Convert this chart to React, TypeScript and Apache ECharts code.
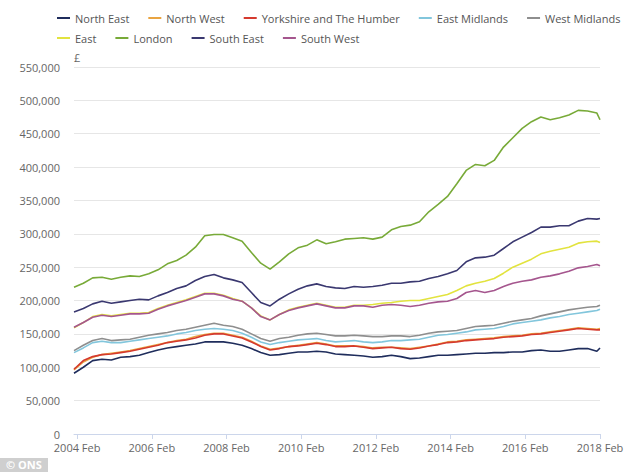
import React, { useEffect, useRef } from "react";
import * as echarts from "echarts";

// Month index: 0 = 2004 Jan, 1 = 2004 Feb, ..., 169 = 2018 Feb (quarterly samples)
const sampleMonths = [
  0, 3, 6, 9, 12, 15, 18, 21, 24, 27,
  30, 33, 36, 39, 42, 45, 48, 51, 54, 57,
  60, 63, 66, 69, 72, 75, 78, 81, 84, 87,
  90, 93, 96, 99, 102, 105, 108, 111, 114, 117,
  120, 123, 126, 129, 132, 135, 138, 141, 144, 147,
  150, 153, 156, 159, 162, 165, 168, 169,
];

// Average prices, £ thousands
const northEast = [
  91, 100, 110, 112, 111, 115, 116, 118, 122, 126,
  129, 131, 133, 135, 138, 138, 138, 136, 133, 128,
  122, 118, 119, 121, 123, 123, 124, 123, 120, 119,
  118, 117, 115, 116, 118, 116, 113, 114, 116, 118,
  118, 119, 120, 121, 121, 122, 122, 123, 123, 125,
  126, 124, 124, 126, 128, 128, 124, 129,
];
const northWest = [
  96, 108, 115, 119, 121, 123, 125, 128, 131, 134,
  137, 140, 142, 146, 149, 151, 151, 148, 145, 139,
  132, 127, 129, 131, 133, 135, 137, 135, 132, 132,
  132, 131, 129, 130, 130, 129, 128, 130, 132, 135,
  138, 139, 141, 142, 143, 144, 146, 147, 148, 150,
  151, 153, 155, 157, 159, 158, 157, 158,
];
const yorkshire = [
  97, 110, 116, 119, 120, 122, 124, 127, 130, 133,
  137, 139, 141, 144, 148, 150, 150, 147, 144, 138,
  131, 126, 128, 131, 132, 134, 136, 134, 131, 131,
  132, 130, 128, 129, 130, 128, 127, 129, 132, 134,
  137, 138, 140, 141, 142, 143, 145, 146, 147, 149,
  150, 152, 154, 156, 158, 157, 156, 156,
];
const eastMidlands = [
  122, 129, 137, 139, 137, 137, 139, 141, 143, 145,
  147, 150, 152, 155, 157, 158, 157, 155, 151, 145,
  138, 134, 137, 139, 141, 142, 143, 140, 138, 139,
  140, 138, 137, 138, 140, 140, 141, 142, 145, 148,
  149, 151, 153, 156, 157, 158, 161, 165, 167, 169,
  171, 174, 176, 179, 181, 183, 185, 187,
];
const westMidlands = [
  125, 133, 140, 143, 140, 141, 142, 145, 148, 150,
  152, 155, 157, 160, 163, 166, 163, 161, 157, 150,
  143, 139, 143, 145, 148, 150, 151, 149, 147, 147,
  148, 147, 146, 146, 147, 147, 146, 148, 151, 153,
  154, 155, 158, 161, 162, 163, 166, 169, 171, 173,
  177, 180, 183, 186, 188, 190, 191, 193,
];
const east = [
  159, 167, 176, 179, 177, 179, 181, 181, 182, 188,
  193, 197, 201, 206, 211, 211, 208, 203, 199, 189,
  177, 171, 179, 186, 190, 193, 196, 193, 190, 190,
  193, 193, 194, 196, 197, 199, 200, 200, 203, 206,
  209, 215, 222, 226, 229, 233, 241, 250, 256, 262,
  270, 274, 277, 280, 286, 288, 289, 287,
];
const london = [
  220, 226, 234, 235, 232, 235, 237, 236, 240, 246,
  255, 260, 268, 280, 297, 299, 299, 294, 289, 272,
  256, 247, 258, 270, 279, 283, 291, 285, 288, 292,
  293, 294, 292, 295, 306, 311, 313, 318, 333, 344,
  356, 375, 395, 404, 402, 410, 430, 444, 458, 468,
  475, 471, 474, 478, 485, 484, 481, 471,
];
const southEast = [
  183, 188, 195, 199, 196, 198, 200, 202, 201, 207,
  212, 218, 222, 230, 236, 239, 234, 231, 227, 212,
  197, 192, 202, 210, 217, 222, 225, 221, 219, 218,
  221, 220, 221, 223, 226, 226, 228, 229, 233, 236,
  240, 245, 258, 264, 265, 268, 278, 288, 295, 302,
  310, 310, 312, 312, 319, 323, 322, 323,
];
const southWest = [
  160, 167, 175, 178, 176, 178, 180, 180, 181, 187,
  192, 196, 200, 205, 210, 210, 207, 202, 199, 189,
  176, 171, 179, 185, 189, 192, 195, 192, 189, 189,
  192, 192, 190, 193, 194, 193, 191, 193, 196, 198,
  199, 203, 212, 215, 212, 215, 221, 226, 229, 231,
  235, 237, 240, 244, 249, 251, 254, 252,
];

const seriesNames = [
  "North East",
  "North West",
  "Yorkshire and The Humber",
  "East Midlands",
  "West Midlands",
  "East",
  "London",
  "South East",
  "South West",
];
const seriesValues = [
  northEast, northWest, yorkshire, eastMidlands, westMidlands,
  east, london, southEast, southWest,
];
const seriesColors = [
  "#1f2d5c", "#e9a441", "#d53a2e", "#82c6dc", "#8e8e8e",
  "#e2e33f", "#78aa38", "#3a3870", "#a5568e",
];

const xTickMonths = [1, 25, 49, 73, 97, 121, 145, 169];
const xTickLabels = [
  "2004 Feb", "2006 Feb", "2008 Feb", "2010 Feb",
  "2012 Feb", "2014 Feb", "2016 Feb", "2018 Feb",
];

const FONT = "'Open Sans', 'Noto Sans', sans-serif";

export default function App() {
  const ref = useRef<HTMLDivElement>(null);

  useEffect(() => {
    if (!ref.current) return;
    const chart = echarts.init(ref.current, null, { renderer: "svg" });
    const legendCommon = {
      left: 57,
      orient: "horizontal",
      icon: "rect",
      itemWidth: 13,
      itemHeight: 2,
      itemGap: 19,
      padding: 0,
      textStyle: { fontSize: 11, color: "#555", fontFamily: FONT, lineHeight: 14 },
    };
    chart.setOption({
      animation: false,
      backgroundColor: "#ffffff",
      textStyle: { fontFamily: FONT },
      legend: [
        { ...legendCommon, top: 11, data: seriesNames.slice(0, 5) },
        { ...legendCommon, top: 31, data: seriesNames.slice(5) },
      ],
      grid: { left: 74, right: 34, top: 67, bottom: 38, containLabel: false },
      xAxis: {
        type: "value",
        min: 0,
        max: 169,
        splitLine: { show: false },
        axisLine: { show: true, lineStyle: { color: "#ccd6eb", width: 1 } },
        axisTick: {
          show: true,
          length: 5,
          customValues: xTickMonths,
          lineStyle: { color: "#ccd6eb" },
        },
        axisLabel: {
          customValues: xTickMonths,
          margin: 8,
          fontSize: 11,
          color: "#666",
          fontFamily: FONT,
          formatter: (v: number) => {
            const i = xTickMonths.indexOf(v);
            return i >= 0 ? xTickLabels[i] : "";
          },
        },
      },
      yAxis: {
        type: "value",
        min: 0,
        max: 550000,
        interval: 50000,
        axisLine: { show: false },
        axisTick: { show: false },
        splitLine: { lineStyle: { color: "#e6e6e6", width: 1 } },
        axisLabel: {
          margin: 14,
          fontSize: 11,
          color: "#666",
          fontFamily: FONT,
          formatter: (v: number) => v.toLocaleString("en-GB"),
        },
      },
      graphic: [
        {
          type: "text",
          left: 74,
          top: 52,
          style: { text: "£", fontSize: 11, fill: "#666", fontFamily: FONT },
        },
        {
          type: "rect",
          shape: { x: 0, y: 458, width: 48, height: 14 },
          style: { fill: "#cfcfcf" },
        },
        {
          type: "text",
          x: 6,
          y: 459,
          style: {
            text: "© ONS",
            fontSize: 11,
            fontWeight: "bold",
            fill: "#ffffff",
            fontFamily: FONT,
          },
        },
      ],
      series: seriesNames.map((name, s) => ({
        name,
        type: "line",
        showSymbol: false,
        symbol: "none",
        color: seriesColors[s],
        lineStyle: { width: 1.6, color: seriesColors[s] },
        data: sampleMonths.map((m, i) => [m, seriesValues[s][i] * 1000]),
      })),
    });
    return () => chart.dispose();
  }, []);

  return (
    <div
      ref={ref}
      style={{ position: "fixed", left: 0, top: 0, width: 634, height: 472 }}
    />
  );
}
